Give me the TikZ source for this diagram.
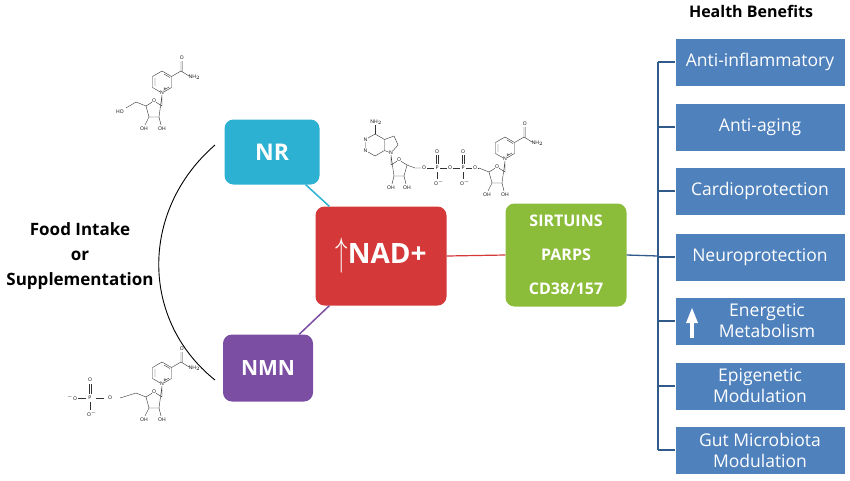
\documentclass[tikz,border=0pt]{standalone}
\usepackage{fontspec}
\setmainfont{Open Sans}
\usetikzlibrary{positioning}
\definecolor{nrcol}{HTML}{2CB1D3}
\definecolor{nmncol}{HTML}{7B4DA3}
\definecolor{nadcol}{HTML}{D43838}
\definecolor{sircol}{HTML}{8CBD3A}
\definecolor{bencol}{HTML}{4F81BD}
\definecolor{treecol}{HTML}{2F5A8A}
\tikzset{
  hub/.style={rounded corners=9pt, text=white, font=\bfseries, align=center, inner sep=0pt},
  benefit/.style={fill=bencol, text=white, minimum width=169pt, minimum height=47pt,
    align=center, font=\fontsize{17.5}{21}\selectfont, inner sep=0pt},
  chem/.style={font=\fontsize{5}{5}\selectfont, inner sep=0.5pt},
  bond/.style={line width=0.4pt, black!80},
  pics/nicrib/.style={code={
    \draw[bond] (0,-11)--(9.5,-5.5)--(9.5,5.5)--(0,11)--(-9.5,5.5)--(-9.5,-5.5)--cycle;
    \draw[bond] (-7,-4)--(-7,4) (2,-8)--(8,-4.5) (2,8)--(7,5);
    \draw[bond] (9.5,-5.5)--(19,-11)--(19,-21) (20.5,-11)--(20.5,-21) (19,-11)--(27,-6);
    \node[chem] at (19.7,-24) {O};
    \node[chem,right] at (26,-5) {NH$_2$};
    \node[chem,fill=white] at (0,11) {N};
    \node[chem] at (3,7) {+};
    \draw[bond] (0,13)--(0,24)--(-8,19)--(-16,24)--(-13,35)--(-3,35)--cycle;
    \node[chem,fill=white] at (-8,19) {O};
    \draw[bond] (-3,35)--(-1,43) (-13,35)--(-17,43) (-16,24)--(-26,20);
    \node[chem] at (0,47) {OH};
    \node[chem] at (-18,47) {OH};
  }}
}
\begin{document}
\begin{tikzpicture}[x=1pt,y=-1pt]
\useasboundingbox (0,0) rectangle (850,480);

% chemical structures
\pic at (162,82) {nicrib};
\node[chem] at (120,112) {HO};
\draw[bond] (136,102)--(126,108);
\pic at (162,373) {nicrib};
\draw[bond] (136,393)--(120,398);
\node[chem] at (110,398) {O};
\draw[bond] (104,398)--(96,398);
\node[chem] at (90,398) {P};
\draw[bond] (89,394)--(89,384) (91,394)--(91,384);
\node[chem] at (90,380) {O};
\draw[bond] (86,398)--(78,398) (90,402)--(90,410);
\node[chem] at (72,398) {$^-$O};
\node[chem] at (92,414) {O$^-$};
\pic at (505,148) {nicrib};
\coordinate (c5) at (479,168);
% adenosine half of NAD
\begin{scope}[shift={(375,145)}]
\draw[bond] (0,-11)--(9.5,-5.5)--(9.5,5.5)--(0,11)--(-9.5,5.5)--(-9.5,-5.5)--cycle;
\draw[bond] (9.5,-5.5)--(19,-9)--(23,0)--(16,8)--(9.5,5.5);
\draw[bond] (0,-11)--(0,-20);
\node[chem] at (1,-23) {NH$_2$};
\node[chem,fill=white] at (-9.5,-5.5) {N};
\node[chem,fill=white] at (-9.5,5.5) {N};
\node[chem,fill=white] at (16,8) {N};
\draw[bond] (16,10)--(16,20)--(24,15)--(32,20)--(29,31)--(19,31)--cycle;
\node[chem,fill=white] at (24,15) {O};
\draw[bond] (19,31)--(17,39) (29,31)--(31,39);
\node[chem] at (16,43) {OH};
\node[chem] at (32,43) {OH};
\draw[bond] (32,20)--(40,23)--(46,23);
\node[chem] at (49,23) {O};
\draw[bond] (52,23)--(59,23);
\node[chem] at (62,23) {P};
\draw[bond] (61,19)--(61,10) (63,19)--(63,10) (62,27)--(62,34);
\node[chem] at (62,7) {O};
\node[chem] at (64,38) {O$^-$};
\draw[bond] (65,23)--(72,23);
\node[chem] at (75,23) {O};
\draw[bond] (78,23)--(85,23);
\node[chem] at (88,23) {P};
\draw[bond] (87,19)--(87,10) (89,19)--(89,10) (88,27)--(88,34);
\node[chem] at (88,7) {O};
\node[chem] at (90,38) {O$^-$};
\draw[bond] (91,23)--(97,23);
\node[chem] (po) at (100,23) {O};
\end{scope}
\draw[bond] (po.east) -- (c5);

% hubs
\node[hub, fill=nrcol, minimum width=95pt, minimum height=65pt, font=\bfseries\fontsize{23}{26}\selectfont] (nr) at (272,152) {NR};
\node[hub, fill=nmncol, minimum width=90pt, minimum height=67pt, font=\bfseries\fontsize{21}{24}\selectfont] (nmn) at (268,368) {NMN};
\node[hub, fill=nadcol, minimum width=131pt, minimum height=99pt, font=\bfseries\fontsize{28}{32}\selectfont] (nad) at (381,256) {\raisebox{-2pt}{\scalebox{1}[1.6]{$\uparrow$}}NAD+};
\node[hub, fill=sircol, minimum width=121pt, minimum height=103pt, font=\bfseries\fontsize{16}{34}\selectfont] (sir) at (566,255) {SIRTUINS\\PARPS\\CD38/157};

\draw[nrcol, line width=1.5pt] (nr.south east) ++(-14,0) -- ([xshift=14pt]nad.north west);
\draw[nmncol, line width=1.5pt] (nmn.north east) ++(-14,0) -- ([xshift=14pt]nad.south west);
\draw[nadcol, line width=1.2pt] (nad.east) -- (sir.west);

% left bracket
\coordinate (ltop) at (215,145);
\coordinate (lbot) at (215,380);
\draw[line width=0.9pt] (ltop) .. controls (140,210) and (140,320) .. (lbot);
\node[font=\bfseries\fontsize{17}{25}\selectfont, align=center] (food) at (80,256) {Food Intake\\or\\Supplementation};

% benefits
\node[font=\bfseries\fontsize{16}{18}\selectfont] (hb) at (751,11) {Health Benefits};
\node[benefit] (b1) at (760,62) {Anti-inflammatory};
\node[benefit] (b2) at (760,127) {Anti-aging};
\node[benefit] (b3) at (760,191) {Cardioprotection};
\node[benefit] (b4) at (760,257) {Neuroprotection};
\node[benefit] (b5) at (760,321) {\hspace*{14pt}Energetic\\\hspace*{14pt}Metabolism};
\node[benefit] (b6) at (760,386) {Epigenetic\\Modulation};
\node[benefit] (b7) at (760,450) {Gut Microbiota\\Modulation};
\fill[white] (690,322) rectangle (694,338);
\fill[white] (686,323) -- (692,308) -- (698,323) -- cycle;

\coordinate (tree) at (658,256);
\draw[treecol, line width=1.3pt] (sir.east) -- (tree);
\draw[treecol, line width=1.3pt] (658,62) -- (658,450);
\foreach \b in {b1,b2,b3,b4,b5,b6,b7}
  \draw[treecol, line width=1.3pt] (\b.west -| tree) -- (\b.west);
\end{tikzpicture}
\end{document}
